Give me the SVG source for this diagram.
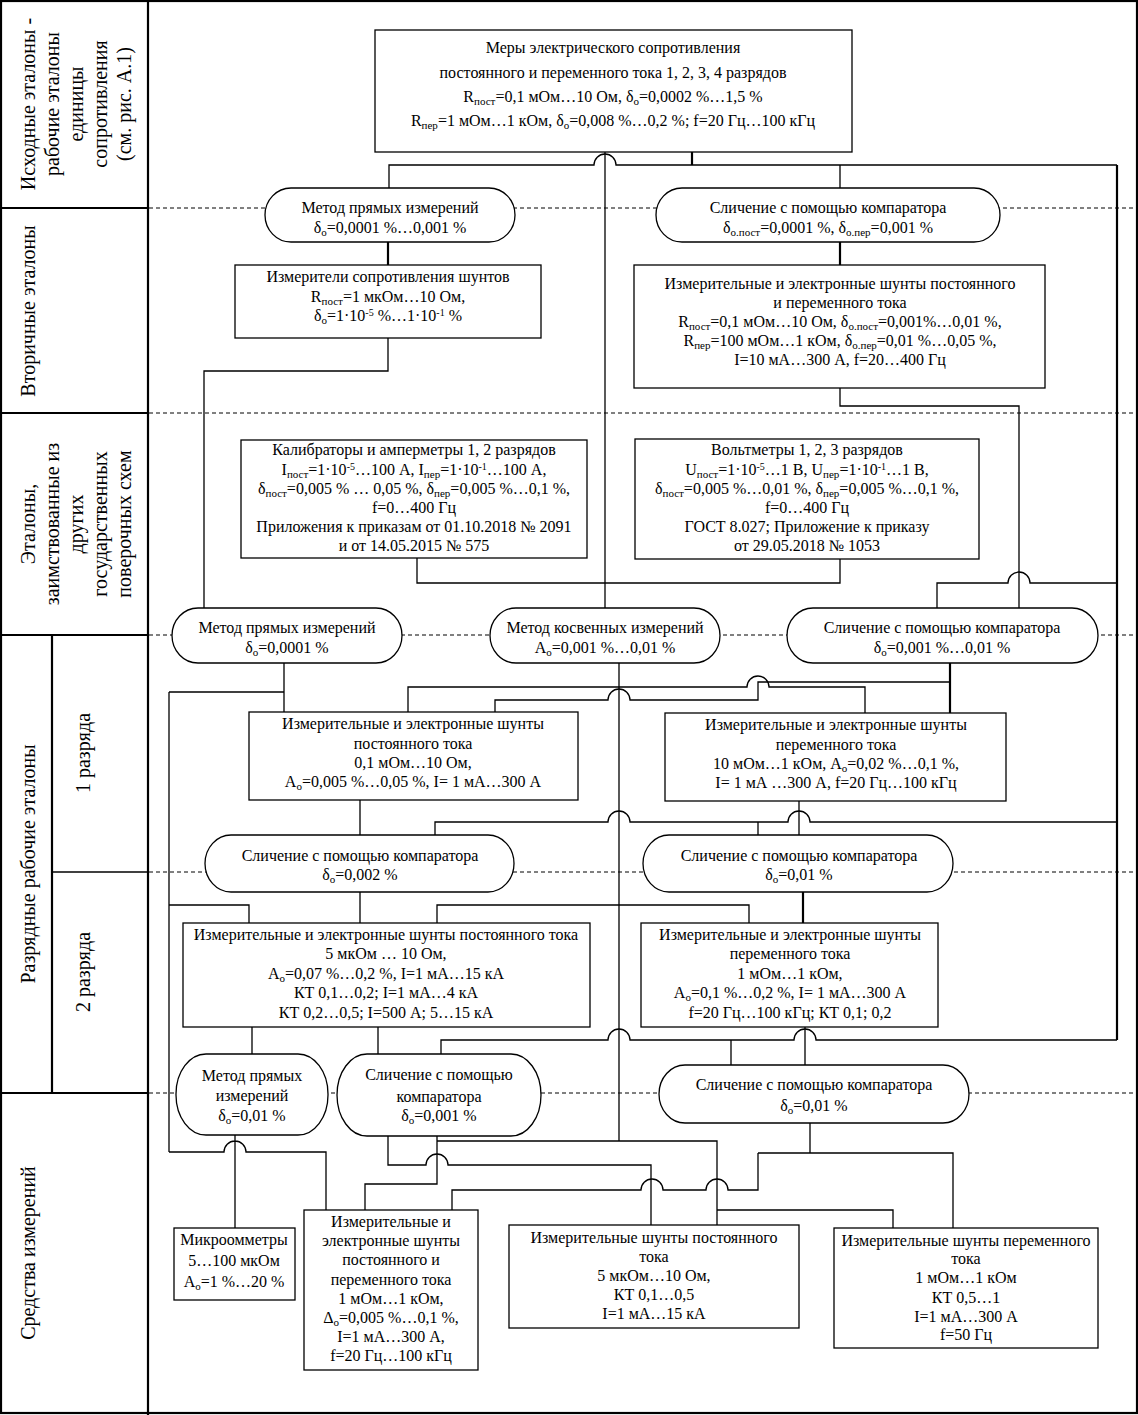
<svg xmlns="http://www.w3.org/2000/svg" width="1138" height="1415" viewBox="0 0 1138 1415">
<style>
text{font-family:"Liberation Serif","Times New Roman",serif;font-size:16px;fill:#000;text-anchor:middle}
.lbl{font-size:20px}
.box{fill:#fff;stroke:#000;stroke-width:1.3}
.c{fill:none;stroke:#000;stroke-width:1.3}
.t{stroke-width:2.2}
.d{fill:none;stroke:#000;stroke-width:1;stroke-dasharray:4 3}
.f{fill:none;stroke:#000;stroke-width:2.2}
.fn{fill:none;stroke:#000;stroke-width:1.3}
.s{font-size:11px;baseline-shift:-3px}
.p{font-size:10px;baseline-shift:5px}
</style>
<rect width="1138" height="1415" fill="#fff"/>
<g id="frame">
<rect class="f" x="1" y="1" width="1136" height="1412"/>
<path class="f" d="M148,0V1415M0,208H148M0,413H148M0,635H148M0,1093H148M52,635V1093"/>
<path class="fn" d="M52,872H148"/>
<path class="d" d="M149,208H1137M149,413H1137M149,635H1137M149,872H1137M149,1093H1137"/>
</g>
<g id="labels">
<text class="lbl" transform="translate(35,104) rotate(-90)">Исходные эталоны -</text>
<text class="lbl" transform="translate(59,104) rotate(-90)">рабочие эталоны</text>
<text class="lbl" transform="translate(83,104) rotate(-90)">единицы</text>
<text class="lbl" transform="translate(107,104) rotate(-90)">сопротивления</text>
<text class="lbl" transform="translate(131,104) rotate(-90)">(см. рис. А.1)</text>
<text class="lbl" transform="translate(35,311) rotate(-90)">Вторичные эталоны</text>
<text class="lbl" transform="translate(35,524) rotate(-90)">Эталоны,</text>
<text class="lbl" transform="translate(59,524) rotate(-90)">заимствованные из</text>
<text class="lbl" transform="translate(83,524) rotate(-90)">других</text>
<text class="lbl" transform="translate(107,524) rotate(-90)">государственных</text>
<text class="lbl" transform="translate(131,524) rotate(-90)">поверочных схем</text>
<text class="lbl" transform="translate(35,864) rotate(-90)">Разрядные рабочие эталоны</text>
<text class="lbl" transform="translate(90,753) rotate(-90)">1 разряда</text>
<text class="lbl" transform="translate(90,972) rotate(-90)">2 разряда</text>
<text class="lbl" transform="translate(35,1253) rotate(-90)">Средства измерений</text>
</g>
<g id="connectors">
<path class="c t" d="M692,152V165M1117,165V1040M950,663V713M803,892V923M388,242V265M840,242V265"/>
<path class="c" d="M389,188V165H594a11,11 0 0 1 22,0H1117M840,165V188"/>
<path class="c" d="M605,152V608"/>
<path class="c" d="M388,338V371H204V608"/>
<path class="c" d="M840,388V406H1019V608"/>
<path class="c" d="M417,558V583H840V559"/>
<path class="c" d="M937,608V583H1008a11,11 0 0 1 22,0H1117"/>
<path class="c" d="M284,663V712M169,692H284M169,692V1152M619,663V1141"/>
<path class="c" d="M408,712V687H747a11,11 0 0 1 22,0H865V713"/>
<path class="c" d="M495,712V700H608a11,11 0 0 1 22,0H758V682H950"/>
<path class="c" d="M360,800V835M799,801V835"/>
<path class="c" d="M435,835V822H608a11,11 0 0 1 22,0H788a11,11 0 0 1 22,0H1117M758,822V835"/>
<path class="c" d="M360,892V923M169,905H249V923M437,923V905H749V923"/>
<path class="c" d="M252,1027V1054M378,1027V1055M805,1027V1065"/>
<path class="c" d="M441,1055V1040H608a11,11 0 0 1 22,0H794a11,11 0 0 1 22,0H1117M731,1040V1065"/>
<path class="c" d="M235,1135V1228M169,1152H224a11,11 0 0 1 22,0H326V1210"/>
<path class="c" d="M388,1136V1165H426a11,11 0 0 1 22,0H651V1225"/>
<path class="c" d="M437,1136V1184H365V1210M437,1141H717V1225M717,1210H893V1228"/>
<path class="c" d="M810,1123V1153M758,1153H953V1228"/>
<path class="c" d="M452,1210V1190H641a11,11 0 0 1 22,0H706a11,11 0 0 1 22,0H758V1153"/>
</g>
<g id="n1"><rect class="box" x="375" y="30" width="477" height="122"/>
<text x="613" y="53">Меры электрического сопротивления</text>
<text x="613" y="78">постоянного и переменного тока 1, 2, 3, 4 разрядов</text>
<text x="613" y="102">R<tspan class="s">пост</tspan>=0,1 мОм…10 Ом, δ<tspan class="s">о</tspan>=0,0002 %…1,5 %</text>
<text x="613" y="126">R<tspan class="s">пер</tspan>=1 мОм…1 кОм, δ<tspan class="s">о</tspan>=0,008 %…0,2 %; f=20 Гц…100 кГц</text></g>
<g id="n2"><rect class="box" x="265" y="188" width="250" height="54" rx="26" ry="27"/>
<text x="390" y="213">Метод прямых измерений</text>
<text x="390" y="233">δ<tspan class="s">о</tspan>=0,0001 %…0,001 %</text></g>
<g id="n3"><rect class="box" x="656" y="188" width="344" height="54" rx="26" ry="27"/>
<text x="828" y="213">Сличение с помощью компаратора</text>
<text x="828" y="233">δ<tspan class="s">о.пост</tspan>=0,0001 %, δ<tspan class="s">о.пер</tspan>=0,001 %</text></g>
<g id="n4"><rect class="box" x="235" y="265" width="306" height="73"/>
<text x="388" y="282">Измерители сопротивления шунтов</text>
<text x="388" y="302">R<tspan class="s">пост</tspan>=1 мкОм…10 Ом,</text>
<text x="388" y="321">δ<tspan class="s">о</tspan>=1·10<tspan class="p">-5</tspan> %…1·10<tspan class="p">-1</tspan> %</text></g>
<g id="n5"><rect class="box" x="634" y="265" width="411" height="123"/>
<text x="840" y="289">Измерительные и электронные шунты постоянного</text>
<text x="840" y="308">и переменного тока</text>
<text x="840" y="327">R<tspan class="s">пост</tspan>=0,1 мОм…10 Ом, δ<tspan class="s">о.пост</tspan>=0,001%…0,01 %,</text>
<text x="840" y="346">R<tspan class="s">пер</tspan>=100 мОм…1 кОм, δ<tspan class="s">о.пер</tspan>=0,01 %…0,05 %,</text>
<text x="840" y="365">I=10 мА…300 А, f=20…400 Гц</text></g>
<g id="n6"><rect class="box" x="241" y="440" width="346" height="118"/>
<text x="414" y="455">Калибраторы и амперметры 1, 2 разрядов</text>
<text x="414" y="475">I<tspan class="s">пост</tspan>=1·10<tspan class="p">-5</tspan>…100 А, I<tspan class="s">пер</tspan>=1·10<tspan class="p">-1</tspan>…100 А,</text>
<text x="414" y="494">δ<tspan class="s">пост</tspan>=0,005 % … 0,05 %, δ<tspan class="s">пер</tspan>=0,005 %…0,1 %,</text>
<text x="414" y="513">f=0…400 Гц</text>
<text x="414" y="532">Приложения к приказам от 01.10.2018 № 2091</text>
<text x="414" y="551">и от 14.05.2015 № 575</text></g>
<g id="n7"><rect class="box" x="635" y="439" width="344" height="120"/>
<text x="807" y="455">Вольтметры 1, 2, 3 разрядов</text>
<text x="807" y="475">U<tspan class="s">пост</tspan>=1·10<tspan class="p">-5</tspan>…1 В, U<tspan class="s">пер</tspan>=1·10<tspan class="p">-1</tspan>…1 В,</text>
<text x="807" y="494">δ<tspan class="s">пост</tspan>=0,005 %…0,01 %, δ<tspan class="s">пер</tspan>=0,005 %…0,1 %,</text>
<text x="807" y="513">f=0…400 Гц</text>
<text x="807" y="532">ГОСТ 8.027; Приложение к приказу</text>
<text x="807" y="551">от 29.05.2018 № 1053</text></g>
<g id="n8"><rect class="box" x="172" y="608" width="230" height="55" rx="26" ry="27.5"/>
<text x="287" y="633">Метод прямых измерений</text>
<text x="287" y="653">δ<tspan class="s">о</tspan>=0,0001 %</text></g>
<g id="n9"><rect class="box" x="490" y="608" width="230" height="55" rx="26" ry="27.5"/>
<text x="605" y="633">Метод косвенных измерений</text>
<text x="605" y="653">А<tspan class="s">о</tspan>=0,001 %…0,01 %</text></g>
<g id="n10"><rect class="box" x="787" y="608" width="311" height="55" rx="26" ry="27.5"/>
<text x="942" y="633">Сличение с помощью компаратора</text>
<text x="942" y="653">δ<tspan class="s">о</tspan>=0,001 %…0,01 %</text></g>
<g id="n11"><rect class="box" x="249" y="712" width="329" height="88"/>
<text x="413" y="729">Измерительные и электронные шунты</text>
<text x="413" y="749">постоянного тока</text>
<text x="413" y="768">0,1 мОм…10 Ом,</text>
<text x="413" y="787">А<tspan class="s">о</tspan>=0,005 %…0,05 %, I= 1 мА…300 А</text></g>
<g id="n12"><rect class="box" x="665" y="713" width="341" height="88"/>
<text x="836" y="730">Измерительные и электронные шунты</text>
<text x="836" y="750">переменного тока</text>
<text x="836" y="769">10 мОм…1 кОм, А<tspan class="s">о</tspan>=0,02 %…0,1 %,</text>
<text x="836" y="788">I= 1 мА …300 А, f=20 Гц…100 кГц</text></g>
<g id="n13"><rect class="box" x="205" y="835" width="309" height="57" rx="26" ry="28.5"/>
<text x="360" y="861">Сличение с помощью компаратора</text>
<text x="360" y="880">δ<tspan class="s">о</tspan>=0,002 %</text></g>
<g id="n14"><rect class="box" x="643" y="835" width="310" height="57" rx="26" ry="28.5"/>
<text x="799" y="861">Сличение с помощью компаратора</text>
<text x="799" y="880">δ<tspan class="s">о</tspan>=0,01 %</text></g>
<g id="n15"><rect class="box" x="183" y="923" width="407" height="104"/>
<text x="386" y="940">Измерительные и электронные шунты постоянного тока</text>
<text x="386" y="959">5 мкОм … 10 Ом,</text>
<text x="386" y="979">А<tspan class="s">о</tspan>=0,07 %…0,2 %, I=1 мА…15 кА</text>
<text x="386" y="998">КТ 0,1…0,2; I=1 мА…4 кА</text>
<text x="386" y="1018">КТ 0,2…0,5; I=500 А; 5…15 кА</text></g>
<g id="n16"><rect class="box" x="641" y="923" width="297" height="104"/>
<text x="790" y="940">Измерительные и электронные шунты</text>
<text x="790" y="959">переменного тока</text>
<text x="790" y="979">1 мОм…1 кОм,</text>
<text x="790" y="998">А<tspan class="s">о</tspan>=0,1 %…0,2 %, I= 1 мА…300 А</text>
<text x="790" y="1018">f=20 Гц…100 кГц; КТ 0,1; 0,2</text></g>
<g id="n17"><rect class="box" x="176" y="1054" width="152" height="81" rx="30" ry="40"/>
<text x="252" y="1081">Метод прямых</text>
<text x="252" y="1101">измерений</text>
<text x="252" y="1121">δ<tspan class="s">о</tspan>=0,01 %</text></g>
<g id="n18"><rect class="box" x="337" y="1054" width="204" height="82" rx="30" ry="41"/>
<text x="439" y="1080">Сличение с помощью</text>
<text x="439" y="1102">компаратора</text>
<text x="439" y="1121">δ<tspan class="s">о</tspan>=0,001 %</text></g>
<g id="n19"><rect class="box" x="659" y="1065" width="310" height="58" rx="26" ry="29"/>
<text x="814" y="1090">Сличение с помощью компаратора</text>
<text x="814" y="1111">δ<tspan class="s">о</tspan>=0,01 %</text></g>
<g id="n20"><rect class="box" x="174" y="1228" width="121" height="72"/>
<text x="234" y="1245">Микроомметры</text>
<text x="234" y="1266">5…100 мкОм</text>
<text x="234" y="1287">А<tspan class="s">о</tspan>=1 %…20 %</text></g>
<g id="n21"><rect class="box" x="304" y="1210" width="174" height="160"/>
<text x="391" y="1227">Измерительные и</text>
<text x="391" y="1246">электронные шунты</text>
<text x="391" y="1265">постоянного и</text>
<text x="391" y="1285">переменного тока</text>
<text x="391" y="1304">1 мОм…1 кОм,</text>
<text x="391" y="1323">Δ<tspan class="s">о</tspan>=0,005 %…0,1 %,</text>
<text x="391" y="1342">I=1 мА…300 А,</text>
<text x="391" y="1361">f=20 Гц…100 кГц</text></g>
<g id="n22"><rect class="box" x="509" y="1225" width="290" height="103"/>
<text x="654" y="1243">Измерительные шунты постоянного</text>
<text x="654" y="1262">тока</text>
<text x="654" y="1281">5 мкОм…10 Ом,</text>
<text x="654" y="1300">КТ 0,1…0,5</text>
<text x="654" y="1319">I=1 мА…15 кА</text></g>
<g id="n23"><rect class="box" x="834" y="1228" width="264" height="120"/>
<text x="966" y="1246">Измерительные шунты переменного</text>
<text x="966" y="1264">тока</text>
<text x="966" y="1283">1 мОм…1 кОм</text>
<text x="966" y="1303">КТ 0,5…1</text>
<text x="966" y="1322">I=1 мА…300 А</text>
<text x="966" y="1340">f=50 Гц</text></g>
</svg>
